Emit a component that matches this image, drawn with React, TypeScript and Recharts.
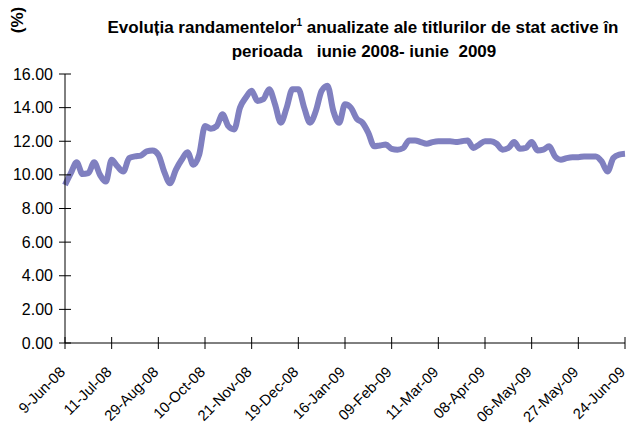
import { LineChart, Line, XAxis, YAxis } from 'recharts';

const tickLabels = [
  '9-Jun-08', '11-Jul-08', '29-Aug-08', '10-Oct-08', '21-Nov-08', '19-Dec-08', '16-Jan-09',
  '09-Feb-09', '11-Mar-09', '08-Apr-09', '06-May-09', '27-May-09', '24-Jun-09',
];

// yields, 8 points between two labelled ticks
const yields = [
  9.4, 10.1, 10.75, 10.05, 10.1, 10.75, 10.0, 9.6,
  10.9, 10.5, 10.2, 11.0, 11.1, 11.15, 11.4, 11.45,
  11.2, 10.2, 9.5, 10.3, 10.9, 11.35, 10.6, 11.2,
  12.9, 12.75, 12.9, 13.6, 12.9, 12.7, 14.0, 14.6,
  15.0, 14.4, 14.5, 15.1, 14.2, 13.1, 14.0, 15.1,
  15.1, 14.0, 13.1, 13.8, 15.0, 15.3, 13.8, 13.1,
  14.2, 14.0, 13.35, 13.1, 12.5, 11.7, 11.75, 11.8,
  11.55, 11.5, 11.6, 12.05, 12.05, 11.95, 11.85, 11.95,
  12.0, 12.0, 12.0, 11.95, 12.0, 12.05, 11.6, 11.8,
  12.0, 12.0, 11.85, 11.5, 11.6, 11.95, 11.55, 11.6,
  11.95, 11.45, 11.5, 11.7, 11.1, 10.9, 11.0, 11.05,
  11.05, 11.1, 11.1, 11.1, 10.8, 10.2, 11.0, 11.2,
  11.25,
];

const yTicks = [0, 2, 4, 6, 8, 10, 12, 14, 16];

const STEP = 8;
const data = yields.map((v, i) => ({ i, v }));
const xTicks = tickLabels.map((_, k) => k * STEP);

const FONT = '"Liberation Sans", Arial, sans-serif';
const TOP = 74;
const BOTTOM = 4;
const XH = 80;
const AXIS_Y = 427 - BOTTOM - XH;
const AXIS_X = 65;

function XTick(props: any) {
  const { x, payload } = props;
  const label = tickLabels[payload.value / STEP];
  const ax = x + 1;
  const ay = AXIS_Y + 30;
  return (
    <g>
      <line x1={x} x2={x} y1={AXIS_Y - 6} y2={AXIS_Y + 6} stroke="#000" strokeWidth={1} />
      <text
        x={ax}
        y={ay}
        textAnchor="end"
        fontSize={14.8}
        fontFamily={FONT}
        fill="#000"
        transform={`rotate(-45 ${ax} ${ay})`}
      >
        {label}
      </text>
    </g>
  );
}

function YTick(props: any) {
  const { y, payload } = props;
  return (
    <g>
      <line x1={AXIS_X - 6} x2={AXIS_X + 6} y1={y} y2={y} stroke="#000" strokeWidth={1} />
      <text x={AXIS_X - 12} y={y} textAnchor="end" dominantBaseline="central" fontSize={16} fontFamily={FONT} fill="#000">
        {payload.value.toFixed(2)}
      </text>
    </g>
  );
}

export default function App() {
  return (
    <div style={{ position: 'absolute', left: 0, top: 0, width: 630, height: 427, background: '#fff' }}>
      <svg width={630} height={70} style={{ position: 'absolute', left: 0, top: 0 }}>
        <text
          x={17}
          y={20}
          transform="rotate(-90 17 20)"
          textAnchor="middle"
          dominantBaseline="central"
          fontSize={17}
          fontWeight="bold"
          fontFamily={FONT}
        >
          (%)
        </text>
        <text x={363} y={33} textAnchor="middle" fontSize={17} fontWeight="bold" fontFamily={FONT}>
          Evoluția randamentelor
          <tspan dy={-7} fontSize={10}>1</tspan>
          <tspan dy={7}> anualizate ale titlurilor de stat active în</tspan>
        </text>
        <text x={364} y={57} textAnchor="middle" fontSize={17} fontWeight="bold" fontFamily={FONT} style={{ whiteSpace: 'pre' }}>
          {'perioada   iunie 2008- iunie  2009'}
        </text>
      </svg>
      <div style={{ position: 'absolute', left: 0, top: 0 }}>
        <LineChart width={630} height={427} data={data} margin={{ top: TOP, right: 5, bottom: BOTTOM, left: 0 }}>
          <XAxis
            dataKey="i"
            type="number"
            domain={[0, yields.length - 1]}
            ticks={xTicks}
            interval={0}
            tick={<XTick />}
            tickLine={false}
            axisLine={{ stroke: '#000', strokeWidth: 1 }}
            height={XH}
          />
          <YAxis
            domain={[0, 16]}
            ticks={yTicks}
            interval={0}
            tick={<YTick />}
            tickLine={false}
            axisLine={{ stroke: '#000', strokeWidth: 1 }}
            width={AXIS_X}
          />
          <Line
            dataKey="v"
            type="monotone"
            stroke="#8080C0"
            strokeWidth={6}
            dot={false}
            isAnimationActive={false}
          />
        </LineChart>
      </div>
    </div>
  );
}
